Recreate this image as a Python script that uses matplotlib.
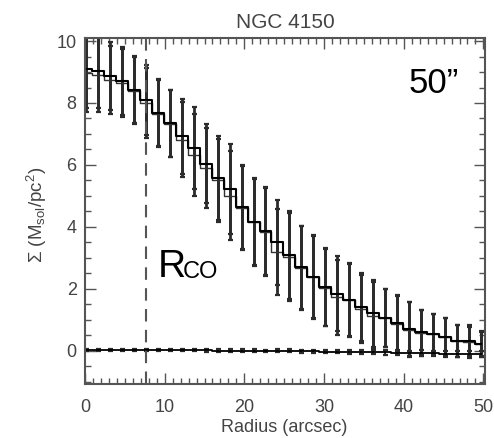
import matplotlib
matplotlib.use('Agg')
import matplotlib.pyplot as plt
from matplotlib.ticker import MultipleLocator

plt.rcParams['font.family'] = ['Liberation Sans', 'DejaVu Sans']
plt.rcParams['mathtext.fontset'] = 'custom'
plt.rcParams['mathtext.rm'] = 'Liberation Sans'
plt.rcParams['mathtext.it'] = 'Liberation Sans:italic'

# radial bins (arcsec)
radius = [0.15, 1.65, 3.15, 4.65, 6.15, 7.65, 9.15, 10.65, 12.15, 13.65,
          15.15, 16.65, 18.15, 19.65, 21.15, 22.65, 24.15, 25.65, 27.15, 28.65,
          30.15, 31.65, 33.15, 34.65, 36.15, 37.65, 39.15, 40.65, 42.15, 43.65,
          45.15, 46.65, 48.15, 49.65]

# surface density profiles (Msol/pc^2)
sigma_a = [9.10, 9.04, 8.86, 8.70, 8.43, 8.10, 7.69, 7.35, 6.92, 6.54,
           6.04, 5.58, 5.23, 4.63, 4.17, 3.86, 3.50, 3.10, 2.69, 2.39,
           2.05, 1.83, 1.65, 1.40, 1.21, 1.06, 0.88, 0.70, 0.59, 0.54,
           0.45, 0.32, 0.32, 0.22]
sigma_b = [8.97, 8.91, 8.73, 8.66, 8.40, 8.00, 7.65, 7.33, 6.82, 6.33,
           5.90, 5.50, 5.01, 4.60, 4.15, 3.84, 3.18, 3.02, 2.66, 2.37,
           2.03, 1.72, 1.62, 1.35, 1.13, 1.04, 0.86, 0.68, 0.57, 0.52,
           0.43, 0.30, 0.27, 0.20]
sigma_err = [1.25, 1.21, 1.10, 1.10, 1.08, 1.14, 1.08, 1.08, 1.20, 1.32,
             1.28, 1.35, 1.45, 1.36, 1.41, 1.42, 1.38, 1.42, 1.35, 1.34,
             1.25, 1.21, 1.17, 1.10, 1.08, 0.94, 0.90, 0.88, 0.73, 0.65,
             0.61, 0.52, 0.50, 0.40]

# residual profile near zero
resid = [0.03, 0.03, 0.03, 0.03, 0.02, 0.02, 0.02, 0.02, 0.01, 0.01,
         0.01, 0.0, 0.0, 0.0, 0.0, -0.01, -0.01, -0.01, -0.02, -0.02,
         -0.03, -0.03, -0.04, -0.05, -0.05, -0.06, -0.07, -0.08, -0.08, -0.09,
         -0.10, -0.10, -0.11, -0.11]
resid_err = [0.03, 0.03, 0.03, 0.03, 0.03, 0.03, 0.03, 0.03, 0.03, 0.03,
             0.04, 0.04, 0.04, 0.04, 0.04, 0.04, 0.05, 0.05, 0.05, 0.05,
             0.05, 0.06, 0.06, 0.06, 0.07, 0.07, 0.08, 0.08, 0.09, 0.09,
             0.10, 0.10, 0.11, 0.11]

r_co = 7.7

fig = plt.figure(figsize=(4.94, 4.38), dpi=100)
ax = fig.add_axes([85/494, 1 - 384/438, 400/494, 346/438])

ax.errorbar(radius, sigma_b, yerr=sigma_err, fmt='none', ecolor='#2b2b2b',
            elinewidth=2.0, capsize=1.8, capthick=1.6)
ax.errorbar(radius, sigma_a, yerr=sigma_err, fmt='none', ecolor='#2b2b2b',
            elinewidth=2.0, capsize=1.8, capthick=1.6)
ax.plot(radius, sigma_b, drawstyle='steps-mid', color='#333333', lw=1.0)
ax.plot(radius, sigma_a, drawstyle='steps-mid', color='black', lw=1.5)

ax.errorbar(radius, resid, yerr=resid_err, fmt='none', ecolor='#2b2b2b',
            elinewidth=1.5, capsize=1.8, capthick=1.6)
ax.plot(radius, resid, drawstyle='steps-mid', color='black', lw=1.3)

ax.axvline(r_co, color='#555555', lw=1.5, ls=(0, (6, 4)))

ax.set_xlim(0, 50.2)
ax.set_ylim(-1.08, 10.1)
ax.xaxis.set_major_locator(MultipleLocator(10))
ax.xaxis.set_minor_locator(MultipleLocator(1))
ax.yaxis.set_major_locator(MultipleLocator(2))
ax.yaxis.set_minor_locator(MultipleLocator(0.5))
ax.tick_params(which='both', direction='in', top=True, right=True,
               color='#555555', width=1.0)
ax.tick_params(which='major', length=8)
ax.tick_params(which='minor', length=4)
ax.tick_params(axis='x', pad=11, labelsize=13, labelcolor='#444444')
ax.tick_params(axis='y', pad=6, labelsize=13, labelcolor='#444444')
for s in ax.spines.values():
    s.set_color('#555555')
    s.set_linewidth(1.5)

ax.set_title('NGC 4150', fontsize=15, color='#444444', pad=7)
fig.text(284/494, 1 - 428/438, 'Radius (arcsec)', ha='center', va='center',
         fontsize=13, color='#444444')
fig.text(37/494, 1 - 215/438, r'$\Sigma$ (M$_{\rm sol}$/pc$^{2}$)', ha='center',
         va='center', rotation=90, fontsize=13.5, color='#444444')

ax.text(40.6, 8.31, '50\u201d', fontsize=25, va='baseline', ha='left', color='black')
ax.text(9.17, 2.39, 'R', fontsize=28, va='baseline', ha='left', color='black')
ax.text(12.3, 2.36, 'CO', fontsize=17, va='baseline', ha='left', color='black')

fig.savefig('out.png', dpi=100)
